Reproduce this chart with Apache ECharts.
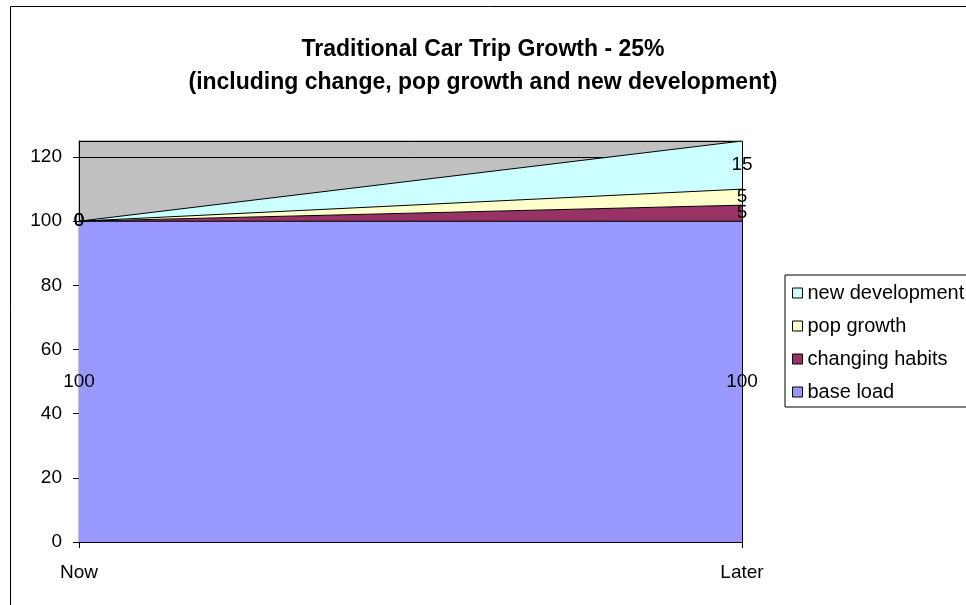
<!DOCTYPE html>
<html lang="en">
<head>
    <meta charset="UTF-8">
    <title>Traditional Car Trip Growth</title>
    <script src="https://cdn.jsdelivr.net/npm/echarts@6/dist/echarts.min.js"></script>
    <style>
        html, body { margin: 0; padding: 0; background: #fff; }
    </style>
</head>
<body>
    <div id="main" style="width: 966px; height: 605px"></div>
    <script>
        var categories = ['Now', 'Later'];
        var baseLoad = [100, 100];
        var changingHabits = [0, 5];
        var popGrowth = [0, 5];
        var newDevelopment = [0, 15];

        var seriesNames = ['base load', 'changing habits', 'pop growth', 'new development'];
        var seriesValues = [baseLoad, changingHabits, popGrowth, newDevelopment];
        var seriesColors = ['#9999FF', '#993366', '#FFFFCC', '#CCFFFF'];

        var font = "'Liberation Sans', Arial, sans-serif";
        var mychart = echarts.init(document.getElementById('main'));

        var series = [];
        seriesNames.forEach(function (name, i) {
            var s = {
                name: name,
                type: 'line',
                stack: 'total',
                symbol: 'none',
                data: seriesValues[i],
                itemStyle: { color: seriesColors[i] },
                lineStyle: { color: '#000', width: 1 },
                areaStyle: { color: seriesColors[i], opacity: 1 },
                z: 2
            };
            if (i === 0) {
                // the right edge of the stacked areas is outlined in black
                s.markLine = {
                    silent: true,
                    symbol: 'none',
                    label: { show: false },
                    lineStyle: { color: '#000', width: 1, type: 'solid' },
                    data: [{ xAxis: categories[categories.length - 1] }]
                };
            }
            series.push(s);
        });

        // value labels sit in the middle of each band, like excel does
        seriesNames.forEach(function (name, i) {
            var pts = categories.map(function (c, j) {
                var below = 0;
                for (var k = 0; k < i; k++) below += seriesValues[k][j];
                return { value: [j, below + seriesValues[i][j] / 2], raw: seriesValues[i][j] };
            });
            series.push({
                name: name + ' labels',
                type: 'scatter',
                symbolSize: 0,
                silent: true,
                z: 5,
                itemStyle: { opacity: 1 },
                data: pts,
                label: {
                    show: true,
                    position: 'inside',
                    color: '#000',
                    textBorderWidth: 0,
                    fontFamily: font,
                    fontSize: 19,
                    formatter: function (p) { return p.data.raw; }
                }
            });
        });

        var option = {
            animation: false,
            title: {
                text: 'Traditional Car Trip Growth - 25%\n(including change, pop growth and new development)',
                left: 'center',
                top: 28,
                textStyle: {
                    fontFamily: font,
                    fontSize: 23,
                    fontWeight: 'bold',
                    color: '#000',
                    lineHeight: 33
                }
            },
            legend: {
                data: ['new development', 'pop growth', 'changing habits', 'base load'],
                orient: 'vertical',
                left: 785,
                top: 275,
                icon: 'rect',
                itemWidth: 10,
                itemHeight: 10,
                itemGap: 13,
                padding: [8, 10, 5, 7],
                borderColor: '#000',
                borderWidth: 1,
                borderRadius: 0,
                backgroundColor: '#fff',
                itemStyle: { borderColor: '#000', borderWidth: 1 },
                textStyle: { fontFamily: font, fontSize: 20, color: '#000' }
            },
            grid: {
                left: 79,
                top: 141,
                right: 224,
                bottom: 63,
                show: true,
                backgroundColor: '#C0C0C0',
                borderColor: '#808080',
                borderWidth: 1
            },
            xAxis: {
                type: 'category',
                data: categories,
                boundaryGap: false,
                axisLine: { lineStyle: { color: '#000' } },
                axisTick: { alignWithLabel: true, length: 6, lineStyle: { color: '#000' } },
                axisLabel: { color: '#000', fontFamily: font, fontSize: 19, margin: 21 },
                splitLine: { show: false }
            },
            yAxis: {
                type: 'value',
                min: 0,
                max: 125,
                interval: 20,
                axisLine: { show: true, lineStyle: { color: '#000' } },
                axisTick: { show: true, length: 6, lineStyle: { color: '#000' } },
                axisLabel: { color: '#000', fontFamily: font, fontSize: 19, margin: 17, showMaxLabel: false },
                splitLine: { show: true, lineStyle: { color: '#000', width: 1 } }
            },
            graphic: [{
                type: 'rect',
                shape: { x: 10.5, y: 6.5, width: 1000, height: 700 },
                style: { fill: null, stroke: '#000', lineWidth: 1 },
                silent: true
            }],
            series: series
        };

        mychart.setOption(option);
    </script>
</body>
</html>
